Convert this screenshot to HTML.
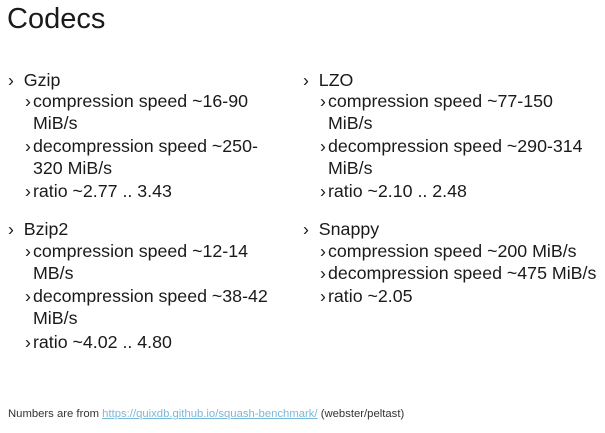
<!DOCTYPE html>
<html><head><style>
body{margin:0;width:605px;height:433px;background:#fff;position:relative;overflow:hidden;font-family:"Liberation Sans",sans-serif;color:#1a1a1a}
div{position:absolute;white-space:nowrap;line-height:20px}
.t{left:7px;top:-1px;font-size:29px;line-height:40px}
.l{font-size:17.8px}
.l b{font-weight:normal;display:inline-block;width:8px}
.f{left:8px;top:407px;font-size:11.3px;line-height:14px;color:#333}
.f span{color:#7ab8d8;text-decoration:underline}
</style></head><body>
<div class="t">Codecs</div>

<div class="l" style="left:8px;top:70px">›&nbsp; Gzip</div>
<div class="l" style="left:25px;top:91px"><b>›</b>compression speed ~16-90</div>
<div class="l" style="left:33px;top:113px">MiB/s</div>
<div class="l" style="left:25px;top:136px"><b>›</b>decompression speed ~250-</div>
<div class="l" style="left:33px;top:158px">320 MiB/s</div>
<div class="l" style="left:25px;top:181px"><b>›</b>ratio ~2.77 .. 3.43</div>

<div class="l" style="left:8px;top:219px">›&nbsp; Bzip2</div>
<div class="l" style="left:25px;top:241px"><b>›</b>compression speed ~12-14</div>
<div class="l" style="left:33px;top:263px">MB/s</div>
<div class="l" style="left:25px;top:286px"><b>›</b>decompression speed ~38-42</div>
<div class="l" style="left:33px;top:308px">MiB/s</div>
<div class="l" style="left:25px;top:332px"><b>›</b>ratio ~4.02 .. 4.80</div>

<div class="l" style="left:303px;top:70px">›&nbsp; LZO</div>
<div class="l" style="left:320px;top:91px"><b>›</b>compression speed ~77-150</div>
<div class="l" style="left:328px;top:113px">MiB/s</div>
<div class="l" style="left:320px;top:136px"><b>›</b>decompression speed ~290-314</div>
<div class="l" style="left:328px;top:158px">MiB/s</div>
<div class="l" style="left:320px;top:181px"><b>›</b>ratio ~2.10 .. 2.48</div>

<div class="l" style="left:303px;top:219px">›&nbsp; Snappy</div>
<div class="l" style="left:320px;top:241px"><b>›</b>compression speed ~200 MiB/s</div>
<div class="l" style="left:320px;top:263px"><b>›</b>decompression speed ~475 MiB/s</div>
<div class="l" style="left:320px;top:286px"><b>›</b>ratio ~2.05</div>

<div class="f">Numbers are from <span>https://quixdb.github.io/squash-benchmark/</span> (webster/peltast)</div>
</body></html>
